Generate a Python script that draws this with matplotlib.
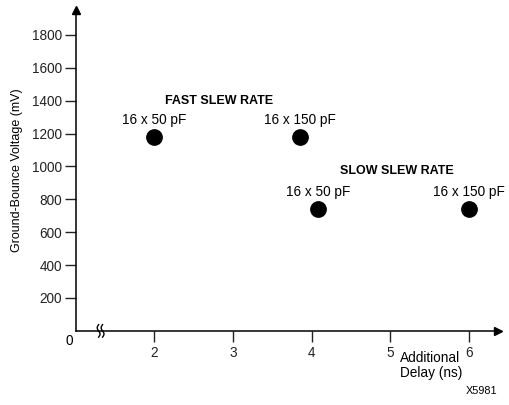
import matplotlib
matplotlib.use("Agg")
import matplotlib.pyplot as plt
import numpy as np

plt.rcParams["font.family"] = ["Liberation Sans", "DejaVu Sans"]

# data
delay = [2.0, 3.85, 4.08, 6.0]
voltage = [1180, 1180, 740, 740]
point_labels = ["16 x 50 pF", "16 x 150 pF", "16 x 50 pF", "16 x 150 pF"]
groups = ["FAST SLEW RATE", "SLOW SLEW RATE"]
group_pos = [(2.82, 1400), (5.08, 975)]
yticks = [200, 400, 600, 800, 1000, 1200, 1400, 1600, 1800]
xticks = [2, 3, 4, 5, 6]

fig = plt.figure(figsize=(5.09, 4.05), dpi=100)
ax = fig.add_axes([0.149, 0.183, 0.829, 0.793])
ax.set_xlim(1.0, 6.37)
ax.set_ylim(0, 1953)

for s in ["top", "right"]:
    ax.spines[s].set_visible(False)
for s in ["left", "bottom"]:
    ax.spines[s].set_linewidth(1.1)

# arrow heads
ax.plot(1, 0, marker=">", color="k", markersize=6, transform=ax.transAxes, clip_on=False)
ax.plot(0, 1, marker="^", color="k", markersize=6, transform=ax.transAxes, clip_on=False)

ax.set_xticks(xticks)
ax.set_yticks(yticks)
ax.tick_params(axis="both", direction="out", length=8, width=1, labelsize=9.8, colors="#222222")
ax.tick_params(axis="x", pad=3)
ax.tick_params(axis="y", pad=2)

ax.set_ylabel("Ground-Bounce Voltage (mV)", fontsize=9, labelpad=6)

ax.scatter(delay, voltage, s=122, color="black", zorder=3, clip_on=False)
for x, y, t in zip(delay, voltage, point_labels):
    ax.annotate(t, (x, y), xytext=(0, 12.3), textcoords="offset points",
                ha="center", va="center", fontsize=9.8)
for g, (x, y) in zip(groups, group_pos):
    ax.text(x, y, g, ha="center", va="center", fontsize=9, fontweight="bold")

# origin label
ax.annotate("0", (0, 0), xycoords="axes fraction", xytext=(-5, -7),
            textcoords="offset points", ha="center", va="center", fontsize=9.8)

# axis break squiggles
tt = np.linspace(-1, 1, 30)
for xb in [1.29, 1.34]:
    ax.plot(xb - 0.018 * np.sin(tt * np.pi), tt * 38, color="k",
            lw=1.0, clip_on=False)

ax.text(5.13, -125, "Additional\nDelay (ns)", ha="left", va="top", fontsize=9.8,
        linespacing=1.05)
fig.text(0.978, 0.035, "X5981", ha="right", va="center", fontsize=7.8)

fig.savefig("out.png", dpi=100)
